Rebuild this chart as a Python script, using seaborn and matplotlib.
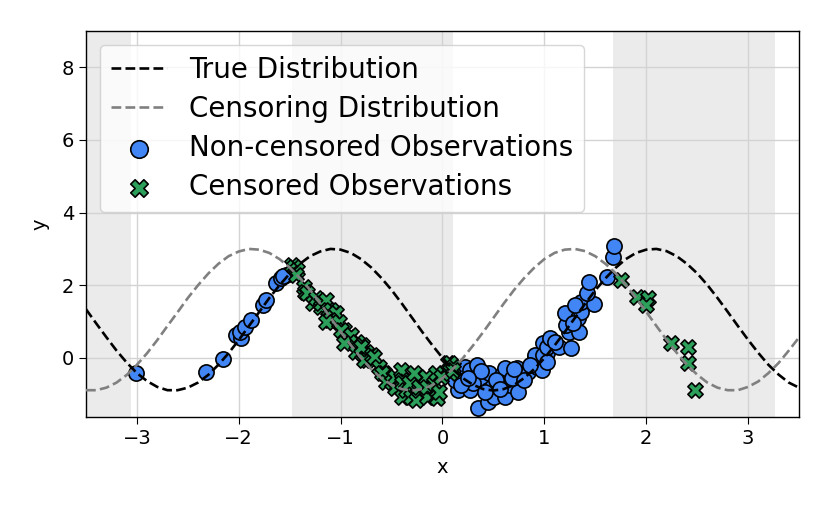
import numpy as np
import pandas as pd
import matplotlib
matplotlib.use("Agg")
import matplotlib.pyplot as plt
import seaborn as sns

true_y = [1.34, 0.95, 0.57, 0.20, -0.13, -0.42, -0.64, -0.80, -0.89, -0.89,
          -0.82, -0.68, -0.47, -0.19, 0.13, 0.49, 0.88, 1.26, 1.65, 2.00,
          2.32, 2.59, 2.80, 2.93, 3.00, 2.98, 2.89, 2.72, 2.49, 2.20,
          1.87, 1.50, 1.11, 0.72, 0.35, 0.00, -0.31, -0.56, -0.74, -0.86,
          -0.90, -0.86, -0.75, -0.56, -0.31, -0.01, 0.34, 0.71, 1.10, 1.49,
          1.86, 2.19, 2.48, 2.72, 2.89, 2.98, 3.00, 2.94, 2.80, 2.59,
          2.33, 2.01, 1.65, 1.27, 0.88, 0.50, 0.14, -0.19, -0.46, -0.68,
          -0.82]
cens_y = [-0.89, -0.89, -0.82, -0.68, -0.47, -0.19, 0.13, 0.49, 0.88, 1.26,
          1.65, 2.00, 2.32, 2.59, 2.80, 2.93, 3.00, 2.98, 2.89, 2.72,
          2.49, 2.20, 1.87, 1.50, 1.11, 0.72, 0.35, 0.00, -0.31, -0.56,
          -0.74, -0.86, -0.90, -0.86, -0.75, -0.56, -0.31, -0.01, 0.34, 0.71,
          1.10, 1.49, 1.86, 2.19, 2.48, 2.72, 2.89, 2.98, 3.00, 2.94,
          2.80, 2.59, 2.33, 2.01, 1.65, 1.27, 0.88, 0.50, 0.14, -0.19,
          -0.46, -0.68, -0.82, -0.89, -0.89, -0.80, -0.65, -0.42, -0.14, 0.20,
          0.56]
curve_x = np.linspace(-3.5, 3.5, len(true_y))

# non-censored observations
obs_x = [-3.01, -2.32, -2.15, -2.03, -1.98, -1.99, -1.94, -1.88, -1.76, -1.73,
         -1.63, -1.59, -1.54, -1.57,
         0.15, 0.20, 0.22, 0.27, 0.27, 0.34, 0.35, 0.40, 0.45, 0.45,
         0.46, 0.49, 0.51, 0.58, 0.59, 0.61, 0.61, 0.66, 0.74, 0.74,
         0.61, 0.73, 0.84, 0.93, 0.98, 0.91, 0.99, 1.03, 0.91, 0.99,
         1.03, 1.03, 1.06, 1.14, 1.26, 1.24, 1.34, 1.21, 1.20, 1.33,
         1.36, 1.36, 1.49, 1.42, 1.44, 1.62, 1.67, 1.68,
         0.12, 0.30, 0.38, 0.53, 0.68, 0.80, 1.10, 1.28, 1.30,
         0.18, 0.25, 0.42, 0.56, 0.70, 0.86]
obs_y = [-0.41, -0.39, -0.03, 0.63, 0.55, 0.70, 0.85, 1.05, 1.46, 1.60,
         2.06, 2.20, 2.28, 2.25,
         -0.88, -0.52, -0.25, -0.88, -0.33, -0.19, -1.38, -0.60, -1.21, -0.88,
         -0.41, -0.80, -1.07, -0.47, -0.60, -0.94, -1.07, -0.74, -0.94, -0.41,
         -0.28, -0.28, -0.39, -0.25, -0.33, 0.03, 0.41, 0.14, 0.08, 0.08,
         -0.11, 0.30, 0.55, 0.30, 0.28, 0.72, 0.72, 0.91, 1.24, 1.10,
         1.27, 1.54, 1.49, 1.78, 2.09, 2.23, 2.78, 3.08,
         -0.60, -0.70, -0.35, -0.62, -0.55, -0.60, 0.45, 0.95, 1.45,
         -0.75, -0.55, -0.95, -0.85, -0.30, -0.20]

# censored observations
cen_x = [-1.48, -1.46, -1.43, -1.44, -1.36, -1.35, -1.33, -1.27, -1.24, -1.19,
         -1.19, -1.14, -1.12, -1.09, -1.07, -1.05, -1.10, -1.14, -1.02, -0.97,
         -1.00, -0.92, -0.90, -0.97, -0.84, -0.79, -0.85, -0.79, -0.75, -0.80,
         -0.74, -0.77, -0.69, -0.67, -0.62, -0.57, -0.59, -0.55, -0.50, -0.47,
         -0.47, -0.41, -0.40, -0.40, -0.40, -0.36, -0.33, -0.31, -0.28, -0.26,
         -0.23, -0.23, -0.16, -0.15, -0.15, -0.08, -0.06, -0.05, -0.06, -0.03,
         -0.01, 0.05, 0.07, 0.07, 0.10, 0.10,
         1.75, 1.91, 2.02, 2.00, 2.24, 2.41, 2.41, 2.48]
cen_y = [2.56, 2.50, 2.42, 2.28, 1.95, 1.82, 1.79, 1.51, 1.65, 1.40,
         1.51, 1.60, 1.32, 1.32, 1.13, 1.24, 1.05, 0.99, 0.99, 0.77,
         0.77, 0.58, 0.63, 0.41, 0.44, 0.36, 0.17, 0.14, 0.17, 0.30,
         -0.06, -0.06, 0.08, 0.03, -0.25, -0.41, -0.41, -0.66, -0.66, -0.83,
         -0.52, -0.33, -0.60, -0.69, -1.07, -0.88, -0.69, -1.07, -0.41, -1.16,
         -0.88, -0.80, -0.52, -1.07, -0.80, -0.69, -1.07, -1.10, -0.41, -0.94,
         -0.52, -0.14, -0.41, -0.14, -0.25, -0.33,
         2.15, 1.68, 1.65, 1.46, 0.41, 0.30, -0.14, -0.88]

# shaded regions (where censoring falls below the true curve)
band_start = [-3.6, -1.48, 1.67]
band_end = [-3.06, 0.10, 3.26]

obs = pd.DataFrame({"x": obs_x, "y": obs_y})
cen = pd.DataFrame({"x": cen_x, "y": cen_y})

sns.set_style("ticks")
plt.rcParams["font.family"] = ["DejaVu Sans"]
plt.rcParams["text.color"] = "black"
plt.rcParams["axes.labelcolor"] = "black"
plt.rcParams["xtick.color"] = "black"
plt.rcParams["ytick.color"] = "black"

fig = plt.figure(figsize=(8.3, 5.13), dpi=100)
ax = fig.add_axes([0.1036, 0.187, 0.859, 0.7525])

for a, b in zip(band_start, band_end):
    ax.axvspan(a, b, color="lightgray", alpha=0.45, lw=0, zorder=0)

sns.lineplot(x=curve_x, y=true_y, ax=ax, color="black", linestyle="--", lw=1.9,
             label="True Distribution", zorder=4)
sns.lineplot(x=curve_x, y=cens_y, ax=ax, color="gray", linestyle="--", lw=1.9,
             label="Censoring Distribution", zorder=4)
sns.scatterplot(data=obs, x="x", y="y", ax=ax, marker="o", s=120, color="#4285F4",
                edgecolor="black", linewidth=1.2, label="Non-censored Observations", zorder=3)
sns.scatterplot(data=cen, x="x", y="y", ax=ax, marker="X", s=120, color="#2ca05a",
                edgecolor="black", linewidth=1.2, label="Censored Observations", zorder=3)

ax.set_xlim(-3.5, 3.5)
ax.set_ylim(-1.63, 9.0)
ax.set_xticks([-3, -2, -1, 0, 1, 2, 3])
ax.set_yticks([0, 2, 4, 6, 8])
ax.grid(True, color="#d3d3d3", lw=1, zorder=1)
ax.set_axisbelow(True)
ax.tick_params(labelsize=14, direction="out", length=5, colors="black")
for sp in ax.spines.values():
    sp.set_color("black")
    sp.set_linewidth(1)
ax.set_xlabel("x", fontsize=14, labelpad=7)
ax.set_ylabel("y", fontsize=14, labelpad=9)

ax.legend(loc="upper left", fontsize=20, framealpha=0.8, labelspacing=0.4,
          markerscale=1.15)

fig.savefig("out.png", dpi=100)
